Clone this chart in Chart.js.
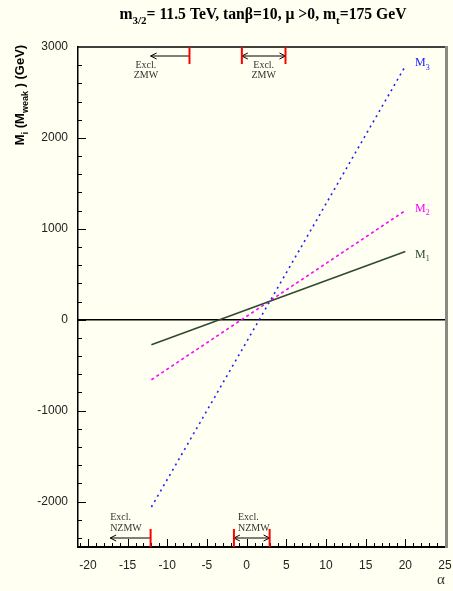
<!DOCTYPE html>
<html>
<head>
<meta charset="utf-8">
<script src="https://cdn.jsdelivr.net/npm/chart.js@4"></script>
<style>
  html, body { margin: 0; padding: 0; background: #fffff2; }
  canvas { display: block; }
</style>
</head>
<body>
<canvas id="massChart" width="453" height="591"></canvas>
<script>
// gaugino masses at the weak scale vs alpha
const alpha = [-12, 20];
const m1 = [-275, 750];
const m2 = [-660, 1200];
const m3 = [-2060, 2790];

const xTicks = [-20, -15, -10, -5, 0, 5, 10, 15, 20, 25];
const yTicks = [-2000, -1000, 0, 1000, 2000, 3000];

// excluded alpha ranges (ZMW on top, NZMW at the bottom)
const zmwBands = [[-12.1, -7.2], [-0.6, 4.9]];
const nzmwBands = [[-17.2, -12.1], [-1.6, 2.9]];

const serif = '"Liberation Serif", "Times New Roman", serif';
const sans = '"Liberation Sans", Arial, sans-serif';

function points(ys) {
  return alpha.map((a, i) => ({ x: a, y: ys[i] }));
}

// text with subscripts: parts = [[text, isSub], ...]
function richWidth(ctx, parts, size, weight, family) {
  let w = 0;
  parts.forEach(p => {
    ctx.font = weight + ' ' + (p[1] ? Math.round(size * 0.7) : size) + 'px ' + family;
    w += ctx.measureText(p[0]).width;
  });
  return w;
}
function drawRich(ctx, parts, x, y, size, weight, family, align) {
  let w = richWidth(ctx, parts, size, weight, family);
  let cx = align === 'center' ? x - w / 2 : x;
  ctx.textAlign = 'left';
  ctx.textBaseline = 'alphabetic';
  parts.forEach(p => {
    ctx.font = weight + ' ' + (p[1] ? Math.round(size * 0.7) : size) + 'px ' + family;
    ctx.fillText(p[0], cx, p[1] ? y + size * 0.3 : y);
    cx += ctx.measureText(p[0]).width;
  });
}

function arrowHead(ctx, x, y, dir) {
  ctx.beginPath();
  ctx.moveTo(x + dir * 6, y - 3);
  ctx.lineTo(x, y);
  ctx.lineTo(x + dir * 6, y + 3);
  ctx.stroke();
}

const decor = {
  id: 'decor',
  beforeDatasetsDraw(chart) {
    const ctx = chart.ctx;
    const a = chart.chartArea;
    const xs = chart.scales.x;
    const ys = chart.scales.y;
    ctx.save();
    // frame: top black, right grey
    ctx.strokeStyle = '#000';
    ctx.lineWidth = 1.5;
    ctx.beginPath();
    ctx.moveTo(a.left, a.top);
    ctx.lineTo(a.right, a.top);
    ctx.stroke();
    ctx.strokeStyle = '#8a8a82';
    ctx.lineWidth = 3;
    ctx.beginPath();
    ctx.moveTo(a.right + 1.5, a.top - 1);
    ctx.lineTo(a.right + 1.5, a.bottom + 1);
    ctx.stroke();

    // zero line
    ctx.strokeStyle = '#000';
    ctx.lineWidth = 1.5;
    let y0 = ys.getPixelForValue(0);
    ctx.beginPath();
    ctx.moveTo(a.left, y0);
    ctx.lineTo(a.right, y0);
    ctx.stroke();

    // inward tick marks
    ctx.lineWidth = 1;
    ctx.beginPath();
    for (let v = Math.ceil(xs.min); v < xs.max; v++) {
      let px = Math.round(xs.getPixelForValue(v)) + 0.5;
      let len = v % 5 === 0 ? 8 : 4;
      ctx.moveTo(px, a.bottom);
      ctx.lineTo(px, a.bottom - len);
    }
    for (let v = -2400; v < ys.max; v += 200) {
      let py = Math.round(ys.getPixelForValue(v)) + 0.5;
      let len = v % 1000 === 0 ? 8 : 4;
      ctx.moveTo(a.left, py);
      ctx.lineTo(a.left + len, py);
    }
    ctx.stroke();
    ctx.restore();
  },
  afterDraw(chart) {
    const ctx = chart.ctx;
    const a = chart.chartArea;
    const xs = chart.scales.x;
    ctx.save();
    ctx.fillStyle = '#000';

    // title
    drawRich(ctx, [['m', 0], ['3/2', 1], ['= 11.5 TeV, tan\u03b2=10, \u03bc >0, m', 0], ['t', 1], ['=175 GeV', 0]],
      263, 19, 15.7, 'bold', serif, 'center');

    // y axis title
    ctx.save();
    ctx.translate(24, 95);
    ctx.rotate(-Math.PI / 2);
    drawRich(ctx, [['M', 0], ['i', 1], [' (M', 0], ['weak', 1], [' ) (GeV)', 0]],
      0, 0, 13, 'bold', sans, 'center');
    ctx.restore();

    // x axis title
    ctx.font = '15px ' + serif;
    ctx.textAlign = 'center';
    ctx.textBaseline = 'alphabetic';
    ctx.fillStyle = '#333';
    ctx.fillText('\u03b1', 441, 584);

    // series labels next to the line ends
    const labels = [['3', '#2020ff', m3, 0], ['2', '#ff00ff', m2, 1], ['1', '#2f4a2f', m1, 6]];
    const ys = chart.scales.y;
    labels.forEach(l => {
      ctx.fillStyle = l[1];
      let py = ys.getPixelForValue(l[2][l[2].length - 1]) + l[3];
      drawRich(ctx, [['M', 0], [l[0], 1]], 415, py, 12, 'normal', serif, 'left');
    });

    // exclusion markers
    ctx.lineWidth = 1;
    ctx.strokeStyle = '#000';
    ctx.fillStyle = '#333';
    // top: ZMW
    let yt = a.top + 9;
    let l0 = xs.getPixelForValue(zmwBands[0][0]);
    let r0 = xs.getPixelForValue(zmwBands[0][1]);
    ctx.beginPath(); ctx.moveTo(l0, yt); ctx.lineTo(r0, yt); ctx.stroke();
    arrowHead(ctx, l0, yt, 1);
    let l1 = xs.getPixelForValue(zmwBands[1][0]);
    let r1 = xs.getPixelForValue(zmwBands[1][1]);
    ctx.beginPath(); ctx.moveTo(l1, yt); ctx.lineTo(r1, yt); ctx.stroke();
    arrowHead(ctx, l1, yt, 1);
    arrowHead(ctx, r1, yt, -1);
    ctx.font = '10px ' + serif;
    ctx.textAlign = 'center';
    ctx.fillText('Excl.', xs.getPixelForValue(-12.7), a.top + 21);
    ctx.fillText('ZMW', xs.getPixelForValue(-12.7), a.top + 31);
    ctx.fillText('Excl.', (l1 + r1) / 2, a.top + 21);
    ctx.fillText('ZMW', (l1 + r1) / 2, a.top + 31);

    // bottom: NZMW
    let yb = a.bottom - 9;
    let l2 = xs.getPixelForValue(nzmwBands[0][0]);
    let r2 = xs.getPixelForValue(nzmwBands[0][1]);
    ctx.beginPath(); ctx.moveTo(l2, yb); ctx.lineTo(r2, yb); ctx.stroke();
    arrowHead(ctx, l2, yb, 1);
    let l3 = xs.getPixelForValue(nzmwBands[1][0]);
    let r3 = xs.getPixelForValue(nzmwBands[1][1]);
    ctx.beginPath(); ctx.moveTo(l3, yb); ctx.lineTo(r3, yb); ctx.stroke();
    arrowHead(ctx, l3, yb, 1);
    arrowHead(ctx, r3, yb, -1);
    ctx.textAlign = 'left';
    ctx.fillText('Excl.', l2, a.bottom - 27);
    ctx.fillText('NZMW', l2, a.bottom - 16);
    ctx.fillText('Excl.', l3 + 4, a.bottom - 27);
    ctx.fillText('NZMW', l3 + 4, a.bottom - 16);

    // red cut lines
    ctx.strokeStyle = '#ff0000';
    ctx.lineWidth = 2;
    ctx.beginPath();
    [zmwBands[0][1], zmwBands[1][0], zmwBands[1][1]].forEach(v => {
      let px = xs.getPixelForValue(v);
      ctx.moveTo(px, a.top);
      ctx.lineTo(px, a.top + 17);
    });
    [nzmwBands[0][1], nzmwBands[1][0], nzmwBands[1][1]].forEach(v => {
      let px = xs.getPixelForValue(v);
      ctx.moveTo(px, a.bottom);
      ctx.lineTo(px, a.bottom - 18);
    });
    ctx.stroke();
    ctx.restore();
  }
};

let content = document.getElementById('massChart');

new Chart(content, {
  type: 'line',
  data: {
    datasets: [
      {
        label: 'M1',
        data: points(m1),
        borderColor: '#2f4a2f',
        borderWidth: 1.6
      }, {
        label: 'M2',
        data: points(m2),
        borderColor: '#ff00ff',
        borderWidth: 1.6,
        borderDash: [3, 3]
      }, {
        label: 'M3',
        data: points(m3),
        borderColor: '#2020ff',
        borderWidth: 1.6,
        borderDash: [2, 4]
      }
    ]
  },
  options: {
    responsive: false,
    devicePixelRatio: 1,
    animation: false,
    elements: { point: { radius: 0 }, line: { tension: 0 } },
    layout: { padding: { top: 47, right: 8, left: 0, bottom: 0 } },
    scales: {
      x: {
        type: 'linear',
        min: -21.25,
        max: 25,
        afterBuildTicks: s => { s.ticks = xTicks.map(v => ({ value: v })); },
        afterFit: s => { s.height = 44; s.paddingLeft = 0; s.paddingRight = 0; },
        grid: { display: false, drawTicks: false },
        border: { display: true, color: '#000', width: 2 },
        ticks: {
          padding: 11,
          color: '#222',
          maxRotation: 0,
          font: { family: sans, size: 12 },
          callback: v => String(v)
        }
      },
      y: {
        min: -2500,
        max: 3000,
        afterBuildTicks: s => { s.ticks = yTicks.map(v => ({ value: v })); },
        afterFit: s => { s.width = 78; s.paddingTop = 0; s.paddingBottom = 0; },
        grid: { display: false, drawTicks: false },
        border: { display: true, color: '#000', width: 1.5 },
        ticks: {
          padding: 10,
          color: '#222',
          font: { family: sans, size: 12 },
          callback: v => String(v)
        }
      }
    },
    plugins: {
      legend: { display: false },
      tooltip: { enabled: false }
    }
  },
  plugins: [decor]
});
</script>
</body>
</html>
